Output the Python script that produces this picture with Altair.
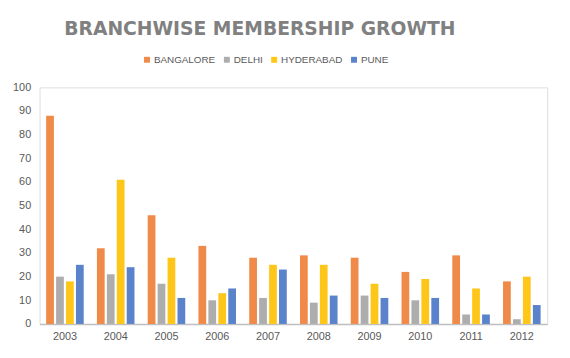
import altair as alt
import pandas as pd

years = ["2003", "2004", "2005", "2006", "2007", "2008", "2009", "2010", "2011", "2012"]
cities = ["BANGALORE", "DELHI", "HYDERABAD", "PUNE"]
bangalore = [88, 32, 46, 33, 28, 29, 28, 22, 29, 18]
delhi = [20, 21, 17, 10, 11, 9, 12, 10, 4, 2]
hyderabad = [18, 61, 28, 13, 25, 25, 17, 19, 15, 20]
pune = [25, 24, 11, 15, 23, 12, 11, 11, 4, 8]
colors = ["#F08A48", "#ADADAD", "#FFC61A", "#5A83CC"]

rows = []
for city, vals in zip(cities, [bangalore, delhi, hyderabad, pune]):
    for y, v in zip(years, vals):
        rows.append({"Year": y, "City": city, "Members": v})
df = pd.DataFrame(rows)

font = "Liberation Sans"

chart = alt.Chart(df).mark_bar().encode(
    x=alt.X("Year:N", sort=years, title=None,
            scale=alt.Scale(paddingInner=0.26, paddingOuter=0.13),
            axis=alt.Axis(labelAngle=0, labelColor="#595959", labelFontSize=11,
                          labelFont=font, domainColor="#BFBFBF", domainWidth=1.5,
                          ticks=False, labelPadding=7)),
    xOffset=alt.XOffset("City:N", sort=cities, scale=alt.Scale(paddingInner=0.22)),
    y=alt.Y("Members:Q", title=None,
            scale=alt.Scale(domain=[0, 100], nice=False),
            axis=alt.Axis(values=list(range(0, 101, 10)), grid=False, domain=False, ticks=False,
                          labelColor="#595959", labelFontSize=11, labelFont=font,
                          labelPadding=9)),
    color=alt.Color("City:N", sort=cities,
                    scale=alt.Scale(domain=cities, range=colors),
                    legend=alt.Legend(title=None, orient="none", direction="horizontal",
                                      legendX=104, legendY=-33,
                                      symbolType="square", symbolSize=36, symbolStrokeWidth=0,
                                      labelColor="#595959", labelFontSize=10,
                                      labelFont=font, columnPadding=6,
                                      labelOffset=2)),
).properties(
    width=515, height=240,
    title=alt.TitleParams("BRANCHWISE MEMBERSHIP GROWTH", fontSize=19, font="DejaVu Sans",
                          fontWeight="bold", color="#808080", anchor="middle", offset=16,
                          dx=-34),
    autosize=alt.AutoSizeParams(type="none"),
    padding={"left": 32, "top": 78, "right": 15, "bottom": 32},
).configure_view(stroke=None).configure_title(
    limit=0
).configure(background="white")

chart.save("out.html", embed_options={"renderer": "svg", "actions": False})
